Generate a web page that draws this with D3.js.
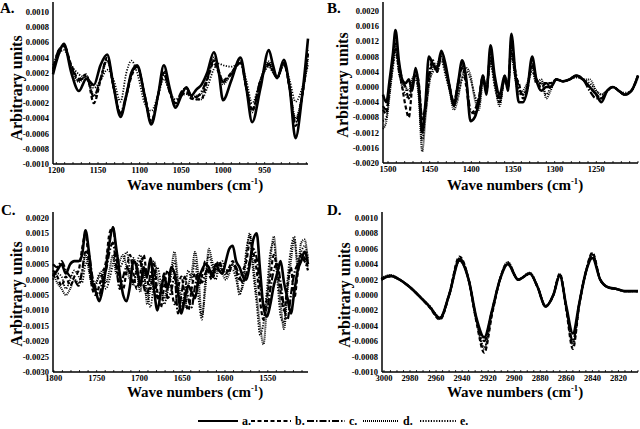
<!DOCTYPE html>
<html><head><meta charset="utf-8">
<script src="https://cdn.jsdelivr.net/npm/d3@7"></script>
<style>
body{margin:0;background:#fff}
svg{display:block}
text{font-family:"Liberation Serif","Times New Roman",serif;font-weight:bold;fill:#000}
</style>
</head><body><svg id="chart" width="640" height="429"></svg>
<script>
// ---------- DATA ----------
const seriesNames = ["a.", "b.", "c.", "d.", "e."];

// Panel A (1200-900 cm-1)
const A_x = [1204,1197,1191,1182,1173,1164,1155,1147,1139,1131,1123,1116,1110,1103,1094,1086,1078,1071,1064,1057,1050,1044,1038,1032,1026,1019,1011,1005,1000,990,979,972,965,955,945,940,935,927,920,913,905,898];
const A_a = [0.00018,0.00045,0.00058,0.0002,-0.00004,0.00012,0.00004,0.0003,0.00044,0.0,-0.00038,-0.0001,0.0002,0.0003,-0.0001,-0.00048,-0.0001,0.0003,0.0,-0.00026,-0.0001,0.00001,-0.0001,-0.00002,0.00004,0.0002,0.00047,0.0002,-0.00016,0.0001,0.0004,0.0,-0.00045,0.0,0.0005,0.0003,0.00013,0.00037,0.0,-0.00066,-0.0001,0.00065];
const A_b = [0.00022,0.0005,0.00056,0.0003,0.00012,0.00018,-0.0002,0.0001,0.0004,0.0,-0.00035,-0.0001,0.00015,0.00028,-0.0001,-0.00045,-0.0001,0.0002,-0.00005,-0.0002,-0.0001,-0.00005,-0.00014,-0.00015,-0.00015,0.0001,0.00033,0.0002,0.0001,0.0002,0.00035,0.0,-0.0003,0.0001,0.0003,0.00022,0.00014,0.00033,0.0,-0.0005,-0.0001,0.0005];
const A_c = [0.00025,0.0005,0.00055,0.00028,0.0001,0.00015,-0.00012,0.00012,0.00038,0.0,-0.00033,-0.00008,0.00018,0.00028,-0.0001,-0.00044,-0.0001,0.00018,-0.00005,-0.0002,-0.00005,0.0,-0.0001,-0.00012,-0.00005,0.00012,0.00036,0.00022,0.00008,0.00018,0.00033,0.0,-0.00028,0.0001,0.00032,0.00022,0.00013,0.00032,0.0,-0.00045,-0.0001,0.00045];
const A_d = [0.0002,0.00048,0.00057,0.00025,0.00008,0.00016,-0.0001,0.00012,0.00036,0.0,-0.00036,-0.0001,0.00017,0.00029,-0.0001,-0.00046,-0.0001,0.00022,-0.00004,-0.00024,-0.00008,0.0,-0.00012,-0.0001,-0.00008,0.00014,0.0004,0.00022,0.00005,0.0002,0.00036,0.0,-0.00032,0.0001,0.00035,0.00024,0.00014,0.00034,0.0,-0.0004,-0.0001,0.0004];
const A_e = [0.0003,0.00045,0.0005,0.0003,0.00018,0.00012,0.0,0.0001,0.00024,0.0001,-0.00018,0.0002,0.00036,0.0002,-0.0002,-0.0003,-0.0001,0.00012,-0.00005,-0.00015,-0.0001,-0.00008,-0.00012,-0.00015,-0.00015,0.0,0.00025,0.00032,0.0003,0.00028,0.00033,0.0001,-0.0002,0.0001,0.00028,0.0002,0.00015,0.0003,0.0001,-0.00018,0.0,0.0003];
const A_xTicks = [1200,1150,1100,1050,1000,950];
const A_yTicks = [0.001,0.0008,0.0006,0.0004,0.0002,0,-0.0002,-0.0004,-0.0006,-0.0008,-0.001];

// Panel B (1500-1200 cm-1)
const B_x = [1506,1502,1498,1494,1491,1487,1483,1479,1475,1471,1467,1463,1459,1455,1451,1446,1441,1436,1431,1426,1421,1416,1411,1406,1401,1396,1391,1386,1382,1377,1372,1366,1360,1356,1352,1347,1343,1338,1333,1327,1322,1316,1310,1305,1298,1290,1282,1274,1266,1258,1250,1244,1237,1230,1223,1216,1208,1200];
const B_a = [-0.0002,-0.0004,0.0002,0.0009,0.0015,0.0007,0.0002,0.0001,0.0002,-0.0001,0.0005,0.0,-0.0012,-0.0004,0.0008,0.0006,0.0005,0.00095,0.0006,0.0,-0.0005,0.0001,0.0007,0.0002,-0.0009,-0.0008,-0.0004,0.0003,-0.0002,0.0011,0.0003,-0.0002,0.0003,-0.0001,0.0014,0.0003,-0.0004,-0.0004,-0.0001,0.0008,0.0002,-0.0001,0.0,0.0,0.0002,0.00015,0.0002,0.0003,0.0002,0.0,-0.0002,-0.0004,-0.0001,0.0,-0.0001,-0.0002,-0.0001,0.0003];
const B_b = [-0.0006,-0.0007,0.0,0.0008,0.0012,0.0005,0.0,-0.0005,-0.0008,0.0,0.0004,0.0001,-0.0009,-0.0006,0.0002,0.0006,0.0004,0.0009,0.0005,0.0,-0.0004,0.0,0.0006,0.0,-0.0007,-0.0006,-0.0003,0.0003,-0.0001,0.0009,0.0002,-0.0004,0.0002,0.0,0.0012,0.0003,0.0001,-0.0003,-0.0001,0.0006,0.0002,0.0,0.0001,0.0001,0.0002,0.00015,0.0002,0.0003,0.0002,0.0,-0.0002,-0.0003,-0.0001,0.0,-0.0001,-0.0002,-0.0001,0.0003];
const B_c = [-0.0005,-0.0006,0.0001,0.0007,0.001,0.0006,0.0002,0.0,-0.0003,0.0001,0.0003,0.0,-0.0008,-0.0005,0.0003,0.0007,0.0004,0.0008,0.0005,0.0,-0.0004,0.0001,0.0005,0.0001,-0.0006,-0.0007,-0.0003,0.0002,-0.0001,0.0008,0.0002,-0.0003,0.0002,0.0,0.001,0.0004,0.0,-0.0002,0.0,0.0006,0.0002,0.0001,0.0001,0.0,0.0002,0.00015,0.0002,0.0003,0.0002,-0.0001,-0.0003,-0.0003,-0.0001,0.0,-0.0001,-0.0002,-0.0001,0.0003];
const B_d = [-0.0011,-0.0009,-0.0002,0.0006,0.0011,0.0004,0.0001,0.0,-0.0001,0.0002,0.0003,-0.0003,-0.0017,-0.0008,0.0,0.0005,0.0006,0.0008,0.0004,-0.0001,-0.0006,-0.0003,0.0003,0.0005,0.0003,-0.0003,-0.0006,0.0001,0.0,0.0007,0.0001,-0.0005,0.0003,0.0001,0.0009,0.0002,-0.0002,-0.0001,0.0001,0.0005,0.0001,0.0002,-0.0003,-0.0001,0.0002,0.00015,0.0002,0.0003,0.0002,0.0002,-0.0001,-0.0002,-0.0001,0.0,-0.0001,-0.0002,-0.0001,0.0003];
const B_e = [-0.0009,-0.0008,-0.0001,0.0005,0.0009,0.0004,0.0,-0.0002,-0.0003,0.0,0.0002,-0.0002,-0.0014,-0.0007,0.0001,0.0004,0.0005,0.0007,0.0003,-0.0001,-0.0005,-0.0002,0.0002,0.0004,0.0002,-0.0002,-0.0005,0.0002,0.0,0.0006,0.0,-0.0004,0.0002,0.0,0.0008,0.0002,-0.0001,-0.0002,0.0,0.0004,0.0001,0.0001,-0.0002,0.0,0.0002,0.00015,0.0002,0.00025,0.0002,0.0001,-0.0001,-0.0002,-0.0001,0.0,-0.0001,-0.00015,-0.0001,0.00025];
const B_xTicks = [1500,1450,1400,1350,1300,1250];
const B_yTicks = [0.002,0.0016,0.0012,0.0008,0.0004,0,-0.0004,-0.0008,-0.0012,-0.0016,-0.002];

// Panel C (1800-1500 cm-1)
const C_x = [1801,1796,1791,1786,1781,1776,1771,1767,1763,1759,1755,1751,1747,1743,1739,1735,1731,1727,1723,1719,1715,1711,1707,1703,1699,1695,1691,1687,1683,1679,1675,1671,1667,1663,1659,1655,1651,1647,1643,1639,1635,1631,1627,1623,1619,1615,1611,1607,1603,1599,1595,1591,1587,1583,1579,1575,1571,1567,1563,1559,1555,1551,1547,1543,1539,1535,1531,1527,1523,1519,1515,1511,1507,1503];
const C_a = [0.0001,0.0003,0.0005,0.0002,0.0005,0.0006,0.0006,0.0008,0.0016,0.0009,-0.0001,-0.0004,-0.0007,-0.0003,0.0004,0.0012,0.0017,0.001,0.0002,-0.0005,-0.0007,-0.0002,0.0006,0.0004,-0.0002,0.0004,0.0001,0.0007,-0.0003,-0.001,-0.0004,0.0001,-0.0003,0.0004,0.0002,-0.0004,-0.0011,-0.0006,-0.0002,-0.0004,-0.0006,0.0,0.0003,0.0005,0.0004,0.0001,0.0005,0.0003,0.0002,0.0006,0.001,0.0011,0.0006,0.0004,0.0001,0.0,0.0005,0.0013,0.0015,0.0003,-0.0009,-0.0012,-0.0008,-0.0002,0.0002,0.0006,-0.0001,-0.0006,-0.0011,-0.0004,0.0003,0.0006,0.0009,0.0005];
const C_b = [0.0003,0.0001,-0.0002,0.0001,-0.0002,0.0001,0.0003,0.001,0.0015,0.0005,-0.0003,-0.0005,-0.0002,0.0002,0.0006,0.0015,0.0017,0.0008,-0.0002,-0.0003,0.0003,0.0008,0.0002,-0.0003,0.0002,0.0008,0.0,-0.0003,0.0005,-0.0004,-0.0009,-0.0002,0.0003,-0.0002,-0.0008,-0.0003,0.0001,-0.0005,-0.001,-0.0003,0.0002,-0.0002,0.0001,0.0006,0.0002,0.0,0.0004,0.0006,0.0003,0.0002,0.0004,0.0006,0.0003,0.0,0.0003,0.0006,0.0012,0.0009,0.0003,-0.0007,-0.0013,-0.0006,0.0001,0.0008,0.0003,-0.0004,-0.001,-0.0002,0.0004,-0.0006,0.0002,0.0008,0.0007,0.0004];
const C_c = [0.0005,0.0004,0.0006,0.0003,0.0001,0.0,-0.0002,0.0003,0.0009,0.0008,0.0001,-0.0003,-0.0005,0.0,0.0003,0.0009,0.0012,0.0004,-0.0003,0.0001,0.0004,0.0002,-0.0001,0.0003,0.0006,-0.0002,-0.0005,0.0002,0.0003,-0.0006,-0.0003,0.0002,-0.0006,-0.0004,0.0001,-0.0011,-0.0005,0.0001,-0.0006,-0.0009,-0.0002,0.0002,-0.0001,0.0002,0.0004,0.0002,0.0003,0.0005,0.0004,0.0003,0.0003,0.0005,0.0004,0.0001,-0.0001,0.0002,0.0006,0.001,0.0007,-0.0002,-0.0008,-0.001,-0.0003,0.0003,0.0005,-0.0001,-0.0009,-0.0013,-0.0005,0.0002,0.0005,0.0007,0.0006,0.0003];
const C_d = [0.0002,-0.0001,-0.0003,-0.0005,-0.0003,0.0,-0.0001,0.0002,0.0008,0.0003,-0.0002,-0.0001,0.0001,0.0003,-0.0001,0.0003,0.0008,0.0002,0.0006,0.0008,0.0004,0.0,0.0007,0.0003,-0.0004,0.0003,-0.0008,-0.0002,0.0006,0.0001,-0.0003,-0.0006,-0.0002,0.0003,0.0009,0.0,-0.0006,-0.0009,-0.0002,0.0002,0.0009,0.0001,-0.0012,-0.0003,0.001,0.0006,0.0002,0.0005,0.0002,0.0,0.0002,0.0005,0.0002,-0.0004,-0.0002,0.0008,0.0015,0.0005,-0.0005,-0.0015,-0.0021,-0.0008,0.0006,0.0014,0.0003,-0.0008,-0.0016,-0.0004,0.0006,0.0013,0.0004,0.0012,0.0013,0.0006];
const C_e = [0.0,0.0002,0.0001,-0.0003,0.0,0.0003,0.0001,-0.0001,0.0005,0.0006,0.0,-0.0002,0.0002,0.0,-0.0003,0.0,0.0005,0.0009,0.0004,0.0006,0.0009,0.0003,-0.0002,0.0005,0.0008,0.0002,-0.0004,-0.0009,0.0,0.0004,-0.0001,-0.0008,-0.0004,0.0001,0.0006,-0.0002,-0.0009,-0.0004,0.0003,0.0,0.0006,-0.0006,-0.0013,0.0,0.0008,0.0004,0.0,0.0004,0.0006,0.0001,0.0003,0.0003,0.0,-0.0005,0.0,0.001,0.0014,0.0002,-0.0008,-0.0018,-0.0014,-0.0003,0.0009,0.0012,0.0,-0.0012,-0.0014,0.0,0.001,0.0014,0.0006,0.0009,0.0011,0.0007];
const C_xTicks = [1800,1750,1700,1650,1600,1550];
const C_yTicks = [0.002,0.0015,0.001,0.0005,0,-0.0005,-0.001,-0.0015,-0.002,-0.0025,-0.003];

// Panel D (3000-2800 cm-1)
const D_x = [3002,2995,2988,2980,2972,2965,2957,2950,2942,2935,2929,2923,2917,2911,2905,2897,2888,2882,2876,2870,2865,2860,2855,2850,2845,2840,2834,2828,2822,2815,2805];
const D_a = [0.0002,0.00025,0.0002,0.0001,-0.00003,-0.00015,-0.0003,0.0,0.00045,0.0002,-0.0003,-0.00055,-0.0002,0.0002,0.0004,0.0002,0.00028,0.0001,-0.00015,0.0,0.00025,-0.00015,-0.0005,-0.0001,0.0003,0.00048,0.0002,0.0001,0.00008,0.00005,0.00005];
const D_b = [0.0002,0.00024,0.0002,0.0001,-0.00003,-0.00016,-0.00032,0.0,0.0005,0.0002,-0.00035,-0.00075,-0.00025,0.0002,0.00042,0.0002,0.00028,0.0001,-0.00015,0.0,0.00028,-0.0002,-0.0007,-0.00012,0.0003,0.00055,0.0002,0.0001,0.00008,0.00005,0.00005];
const D_c = [0.0002,0.00025,0.0002,0.0001,-0.00003,-0.00015,-0.0003,0.0,0.00047,0.0002,-0.00032,-0.0006,-0.0002,0.0002,0.00041,0.0002,0.00028,0.0001,-0.00015,0.0,0.00026,-0.00017,-0.0006,-0.0001,0.0003,0.00052,0.0002,0.0001,0.00008,0.00005,0.00005];
const D_d = [0.00022,0.00026,0.0002,0.0001,-0.00003,-0.00015,-0.00031,0.0,0.00048,0.0002,-0.00034,-0.0007,-0.00022,0.0002,0.00043,0.0002,0.00029,0.0001,-0.00014,0.0,0.00027,-0.00018,-0.00065,-0.00011,0.0003,0.00054,0.0002,0.0001,0.00008,0.00005,0.00005];
const D_e = [0.0002,0.00024,0.0002,0.0001,-0.00003,-0.00014,-0.00029,0.0,0.00044,0.0002,-0.00033,-0.00068,-0.00022,0.0002,0.0004,0.0002,0.00027,0.0001,-0.00014,0.0,0.00025,-0.00017,-0.00062,-0.0001,0.0003,0.0005,0.0002,0.0001,0.00008,0.00005,0.00005];
const D_xTicks = [3000,2980,2960,2940,2920,2900,2880,2860,2840,2820];
const D_yTicks = [0.001,0.0008,0.0006,0.0004,0.0002,0,-0.0002,-0.0004,-0.0006,-0.0008,-0.001];

// ---------- STYLES ----------
const styles = [
  {w: 2.6, dash: null},
  {w: 2.2, dash: "4,2.5"},
  {w: 2.2, dash: "7,2,1.5,2"},
  {w: 2.0, dash: "1,1"},
  {w: 1.8, dash: "1.2,1.5"}
];

const panels = [
  {letter:"A.", lx:0, ly:13, x:A_x, s:[A_a,A_b,A_c,A_d,A_e], xd:[1204,898], xr:[53,308], yd:[-0.001,0.001], yr:[164,12], top:2, xt:A_xTicks, yt:A_yTicks, minor:10, ytx:22, yty:88, titleX:195, titleY:190},
  {letter:"B.", lx:327, ly:13, x:B_x, s:[B_a,B_b,B_c,B_d,B_e], xd:[1506,1200], xr:[383,638], yd:[-0.002,0.002], yr:[163,11], top:2, xt:B_xTicks, yt:B_yTicks, minor:10, ytx:348, yty:85, titleX:515, titleY:190},
  {letter:"C.", lx:1, ly:215, x:C_x, s:[C_a,C_b,C_c,C_d,C_e], xd:[1801,1503], xr:[53,308], yd:[-0.003,0.002], yr:[372,218], top:212, xt:C_xTicks, yt:C_yTicks, minor:10, ytx:22, yty:294, titleX:195, titleY:397},
  {letter:"D.", lx:327, ly:215, x:D_x, s:[D_a,D_b,D_c,D_d,D_e], xd:[3001.5,2805], xr:[382,638], yd:[-0.001,0.001], yr:[372,218], top:212, xt:D_xTicks, yt:D_yTicks, minor:5, ytx:350, yty:295, titleX:515, titleY:397}
];

const svg = d3.select("#chart");
const fmt = v => (Math.abs(v) < 1e-12 ? "0.0000" : v.toFixed(4));

panels.forEach(p => {
  const x = d3.scaleLinear().domain(p.xd).range(p.xr);
  const y = d3.scaleLinear().domain(p.yd).range(p.yr);
  const g = svg.append("g");

  const line = d3.line().x(d => x(d[0])).y(d => y(d[1])).curve(d3.curveMonotoneX);
  [4,3,2,1,0].forEach(i => {
    const data = p.x.map((wn, k) => [wn, p.s[i][k]]);
    g.append("path").datum(data).attr("d", line)
      .attr("fill","none").attr("stroke","#000")
      .attr("stroke-width", styles[i].w)
      .attr("stroke-dasharray", styles[i].dash)
      .attr("stroke-linejoin","round");
  });

  g.append("line").attr("x1", p.xr[0]).attr("x2", p.xr[0]).attr("y1", p.top).attr("y2", p.yr[0])
    .attr("stroke","#000").attr("stroke-width",1.5);
  g.append("line").attr("x1", p.xr[0]).attr("x2", p.xr[1]).attr("y1", p.yr[0]).attr("y2", p.yr[0])
    .attr("stroke","#000").attr("stroke-width",1.5);

  const lo = Math.min(...p.xd), hi = Math.max(...p.xd);
  const minorTicks = d3.range(Math.ceil(lo / p.minor) * p.minor, hi, p.minor);
  g.selectAll(".mt").data(minorTicks).enter().append("line")
    .attr("x1", d => x(d)).attr("x2", d => x(d))
    .attr("y1", p.yr[0]).attr("y2", p.yr[0] - 2)
    .attr("stroke","#000").attr("stroke-width",0.8);

  g.selectAll(".xl").data(p.xt).enter().append("text")
    .attr("x", d => x(d)).attr("y", p.yr[0] + 8.5)
    .attr("text-anchor","middle").attr("font-size", 8.5).text(d => d);

  g.selectAll(".yl").data(p.yt).enter().append("text")
    .attr("x", p.xr[0] - 4).attr("y", d => y(d) + 3)
    .attr("text-anchor","end").attr("font-size", 8.5).text(d => fmt(d));

  g.append("text").attr("transform", `translate(${p.ytx},${p.yty}) rotate(-90)`)
    .attr("text-anchor","middle").attr("font-size", 16).text("Arbitrary units");

  const t = g.append("text").attr("x", p.titleX).attr("y", p.titleY)
    .attr("text-anchor","middle").attr("font-size", 15);
  t.append("tspan").text("Wave numbers (cm");
  t.append("tspan").attr("font-size", 8.5).attr("dy", -6).text("-1");
  t.append("tspan").attr("dy", 6).text(")");

  g.append("text").attr("x", p.lx).attr("y", p.ly).attr("font-size", 15).text(p.letter);
});

// legend
const legendPos = [198, 251, 307, 363, 420];
const legendLen = [40, 40, 38, 36, 36];
const lg = svg.append("g");
seriesNames.forEach((n, i) => {
  const x0 = legendPos[i];
  lg.append("line").attr("x1", x0).attr("x2", x0 + legendLen[i]).attr("y1", 421).attr("y2", 421)
    .attr("stroke","#000").attr("stroke-width", Math.min(styles[i].w, 2)).attr("stroke-dasharray", styles[i].dash);
  lg.append("text").attr("x", x0 + legendLen[i] + 4).attr("y", 425).attr("font-size", 12).text(n);
});
</script>
</body></html>
